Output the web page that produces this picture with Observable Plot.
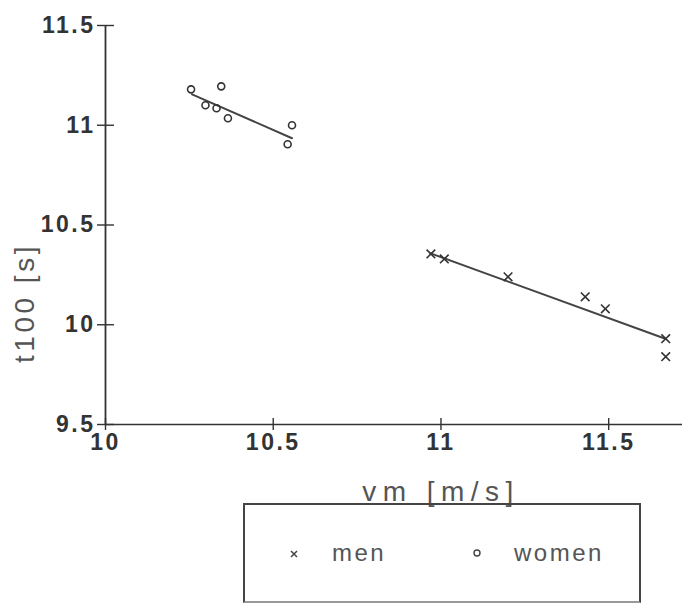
<!DOCTYPE html>
<html>
<head>
<meta charset="utf-8">
<script src="https://cdn.jsdelivr.net/npm/d3@7"></script>
<script src="https://cdn.jsdelivr.net/npm/@observablehq/plot@0.6"></script>
<style>
  body { margin: 0; background: #fff; }
  #wrap { position: relative; width: 682px; height: 604px; overflow: hidden; font-family: "Liberation Sans", Arial, sans-serif; }
  #wrap svg { position: absolute; left: 0; top: 0; }
  g[aria-label="x-axis tick label"] text, g[aria-label="y-axis tick label"] text { letter-spacing: 2.5px; }
  .xtitle { letter-spacing: 6.5px; }
  .ytitle { letter-spacing: 3.5px; }
  #legend { position: absolute; left: 243px; top: 503px; width: 394px; height: 96px; border: 2px solid #444; border-bottom-color: #999; box-sizing: content-box; }
  #legend .item { position: absolute; top: 34px; font-size: 24px; color: #555; letter-spacing: 2.5px; line-height: 28px; }
  #legend svg { position: absolute; }
</style>
</head>
<body>
<div id="wrap"></div>
<script>
// Data
const menVm   = [10.97, 11.01, 11.20, 11.43, 11.49, 11.67, 11.67];
const menT    = [10.355, 10.33, 10.24, 10.14, 10.08, 9.93, 9.84];
const womenVm = [10.255, 10.345, 10.365, 10.556, 10.543, 10.298, 10.331];
const womenT  = [11.18, 11.195, 11.035, 11.00, 10.905, 11.10, 11.085];
// Fitted regression lines as drawn (end points)
const menFitVm   = [10.969, 11.669];
const menFitT    = [10.358, 9.93];
const womenFitVm = [10.258, 10.556];
const womenFitT  = [11.155, 10.935];
// Axes
const xTicks = [10, 10.5, 11, 11.5];
const yTicks = [9.5, 10, 10.5, 11, 11.5];
const xDomain = [10, 11.72];
const yDomain = [9.5, 11.5];
const xTitle = "vm [m/s]";
const yTitle = "t100 [s]";
const seriesNames = ["men", "women"];

const men = menVm.map((v, i) => ({vm: v, t: menT[i]}));
const women = womenVm.map((v, i) => ({vm: v, t: womenT[i]}));
const menFit = menFitVm.map((v, i) => ({vm: v, t: menFitT[i]}));
const womenFit = womenFitVm.map((v, i) => ({vm: v, t: womenFitT[i]}));

const ink = "#333";

const chart = Plot.plot({
  width: 682,
  height: 604,
  marginLeft: 105,
  marginRight: 0,
  marginTop: 25,
  marginBottom: 180,
  x: {domain: xDomain},
  y: {domain: yDomain},
  style: {fontFamily: "'Liberation Sans', Arial, sans-serif", background: "transparent", color: ink},
  marks: [
    Plot.ruleY([yDomain[0]], {stroke: ink, strokeWidth: 1.6}),
    Plot.ruleX([xDomain[0]], {y1: yDomain[0], y2: yDomain[1], stroke: ink, strokeWidth: 1.8}),
    Plot.ruleX(xTicks, {x: d => d, y1: yDomain[0], y2: yDomain[0], insetTop: -6, insetBottom: -6, stroke: ink, strokeWidth: 1.4}),
    Plot.ruleY(yTicks, {y: d => d, x1: xDomain[0], x2: xDomain[0], insetLeft: -8, insetRight: -9, stroke: ink, strokeWidth: 1.4}),
    Plot.axisX({ticks: xTicks, tickSize: 0, tickPadding: 9, fontSize: 23, fontWeight: "bold", label: null, tickFormat: d => String(d)}),
    Plot.axisY({ticks: yTicks, tickSize: 0, tickPadding: 10, fontSize: 23, fontWeight: "bold", label: null, tickFormat: d => String(d)}),
    Plot.text([xTitle], {text: d => d, frameAnchor: "bottom", textAnchor: "middle", dx: 47, dy: 76, fontSize: 28, fill: "#555", className: "xtitle"}),
    Plot.text([yTitle], {text: d => d, frameAnchor: "left", textAnchor: "middle", rotate: -90, dx: -80, dy: 78, fontSize: 28, fill: "#555", className: "ytitle"}),
    Plot.line(womenFit, {x: "vm", y: "t", stroke: "#444", strokeWidth: 2}),
    Plot.line(menFit, {x: "vm", y: "t", stroke: "#444", strokeWidth: 2}),
    Plot.dot(women, {x: "vm", y: "t", symbol: "circle", r: 3.5, stroke: ink, strokeWidth: 1.6, fill: "none"}),
    Plot.dot(men, {x: "vm", y: "t", symbol: "times", r: 4, stroke: ink, strokeWidth: 1.6})
  ]
});

const wrap = document.getElementById("wrap");
wrap.appendChild(chart);

const legend = document.createElement("div");
legend.id = "legend";
legend.innerHTML = `
  <svg style="left:43px;top:43px" width="12" height="12"><path d="M3,3L9,9M9,3L3,9" stroke="#444" stroke-width="1.5"/></svg>
  <span class="item" style="left:87px">${seriesNames[0]}</span>
  <svg style="left:226px;top:42px" width="12" height="12"><circle cx="6" cy="6" r="3" fill="none" stroke="#444" stroke-width="1.4"/></svg>
  <span class="item" style="left:269px">${seriesNames[1]}</span>`;
wrap.appendChild(legend);
</script>
</body>
</html>
